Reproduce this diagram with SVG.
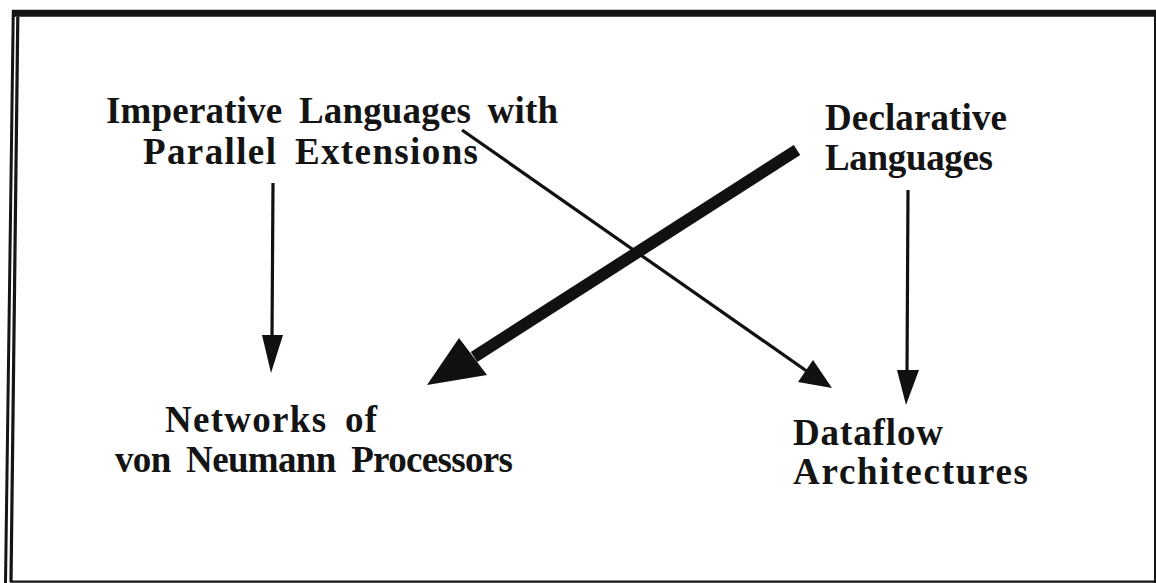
<svg xmlns="http://www.w3.org/2000/svg" width="1156" height="583" viewBox="0 0 1156 583">
  <style>
    .lbl { font-family: "Liberation Serif", "Times New Roman", serif; font-weight: bold; font-size: 37px; fill: #141414; word-spacing: 7px; }
    .frame { stroke: #151515; fill: none; }
    .wire { stroke: #111; fill: none; stroke-width: 3.2; stroke-linecap: butt; }
    .head { fill: #111; stroke: none; }
  </style>
  <rect x="0" y="0" width="1156" height="583" fill="#ffffff"/>

  <!-- outer frame: heavy top rule, double rule on the left, thin right and bottom -->
  <g id="frame">
    <line class="frame" x1="12" y1="13.3" x2="1156" y2="13.3" stroke-width="7"/>
    <line class="frame" x1="13.3" y1="10" x2="5.5" y2="583" stroke-width="3"/>
    <line class="frame" x1="17.8" y1="16.5" x2="11" y2="582" stroke-width="3.2"/>
    <line class="frame" x1="1155" y1="10" x2="1155" y2="583" stroke-width="2"/>
    <line class="frame" x1="10" y1="581.6" x2="1156" y2="581.6" stroke-width="2.4"/>
  </g>

  <g id="imperative">
    <text class="lbl" x="106" y="123" textLength="452" lengthAdjust="spacing">Imperative Languages with</text>
    <text class="lbl" x="143" y="164" textLength="335" lengthAdjust="spacing">Parallel Extensions</text>
  </g>

  <g id="declarative">
    <text class="lbl" x="825" y="130" textLength="182" lengthAdjust="spacing">Declarative</text>
    <text class="lbl" x="825" y="170" textLength="168" lengthAdjust="spacing">Languages</text>
  </g>

  <g id="networks">
    <text class="lbl" x="165" y="432" textLength="212" lengthAdjust="spacing">Networks of</text>
    <text class="lbl" x="115" y="472" textLength="398" lengthAdjust="spacing">von Neumann Processors</text>
  </g>

  <g id="dataflow">
    <text class="lbl" x="793" y="445" textLength="150" lengthAdjust="spacing">Dataflow</text>
    <text class="lbl" x="793" y="484" textLength="235" lengthAdjust="spacing">Architectures</text>
  </g>

  <g id="connectors">
    <!-- imperative -> networks -->
    <line class="wire" x1="273" y1="183" x2="272" y2="338"/>
    <polygon class="head" points="262,335 283,335 271,373"/>

    <!-- imperative -> dataflow -->
    <line class="wire" x1="462" y1="130" x2="808" y2="372"/>
    <polygon class="head" points="813,360 832,388 798,382"/>

    <!-- declarative -> dataflow -->
    <line class="wire" x1="908" y1="190" x2="907" y2="373"/>
    <polygon class="head" points="897,370 919,370 906,405"/>

    <!-- declarative -> networks (heavy) -->
    <line x1="797" y1="150" x2="474" y2="357" stroke="#111" stroke-width="12" stroke-linecap="butt"/>
    <polygon class="head" points="459,338 487,375 427,385"/>
  </g>
</svg>
